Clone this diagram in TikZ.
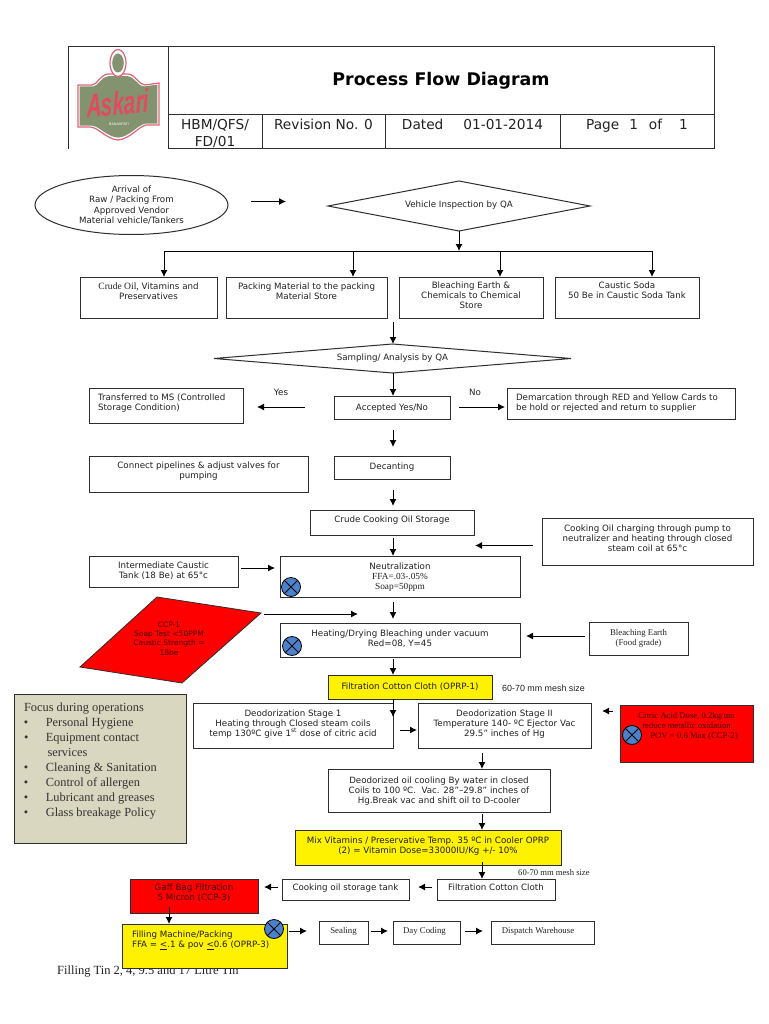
\documentclass[tikz,border=0pt]{standalone}
\usepackage{fontspec}
\setmainfont{DejaVu Sans}
\newfontfamily\srf{Liberation Serif}
\newfontfamily\ari{Liberation Sans}
\usetikzlibrary{arrows.meta,shapes.geometric}
\definecolor{ink}{HTML}{222222}
\definecolor{edge}{HTML}{2E2E2E}
\definecolor{focusbg}{HTML}{DAD7C1}
\definecolor{valve}{HTML}{4A82CC}
\definecolor{redink}{HTML}{400000}
\definecolor{logogreen}{HTML}{84936F}
\definecolor{logopink}{HTML}{DC6478}
\definecolor{logored}{HTML}{E24A62}
\tikzset{
  boxst/.style={draw=edge,line width=1pt,inner sep=0pt,outer sep=0pt,text=ink,anchor=north west,
    font=\fontsize{8.7}{10.4}\selectfont},
  arr/.style={draw=black,line width=1pt,-{Latex[length=7pt,width=7pt]}},
  diam/.style={draw=edge,line width=1pt,diamond,inner sep=0pt,outer sep=0pt,text=ink,
    font=\fontsize{8.7}{10.4}\selectfont},
  lbl/.style={inner sep=0pt,outer sep=0pt,text=ink,font=\fontsize{8.7}{10.4}\selectfont},
  xvalve/.style={circle,draw=black,line width=.8pt,fill=valve,minimum size=19pt,inner sep=0pt,
    path picture={\draw[black,line width=.8pt]
      (path picture bounding box.north west)--(path picture bounding box.south east)
      (path picture bounding box.south west)--(path picture bounding box.north east);}},
  hdr/.style={boxst,font=\fontsize{13.7}{16.8}\selectfont},
  sbox/.style={boxst,font=\srf\fontsize{8.8}{10.6}\selectfont},
  redbox/.style={boxst,fill=red,text=redink},
  yelbox/.style={boxst,fill=yellow,text=black!88},
}
\newcommand\bx[8][]{\node[boxst,#1] (#2) at (#3,#4)
  {\parbox[c][#6pt][t]{#5pt}{\centering\vspace*{\dimexpr #7pt-\ht\strutbox\relax}\strut #8}};}
\begin{document}
\begin{tikzpicture}[x=1pt,y=-1pt]
\useasboundingbox[fill=white] (0,0) rectangle (768,1024);
% guides
\coordinate (x164) at (164,0); \coordinate (x353) at (353,0);
\coordinate (x500) at (500,0); \coordinate (x652) at (652,0);
\coordinate (x393) at (393,0); \coordinate (x482) at (482,0); \coordinate (x169) at (169,0);
\coordinate (yAr) at (0,201.5); \coordinate (yAcc) at (0,407); \coordinate (yChg) at (0,545.5);
\coordinate (yTank) at (0,568); \coordinate (yBl) at (0,636); \coordinate (yStg) at (0,730);
\coordinate (yCit) at (0,711); \coordinate (yFil) at (0,887); \coordinate (yEnd) at (0,931);
% header
\draw[draw=edge,line width=1pt] (168,47)--(68,47)--(68,149);
\bx[hdr]{titlecell}{168}{47}{546}{68}{37.5}{\fontsize{17.4}{20}\selectfont\bfseries\color{black}Process Flow Diagram}
\bx[hdr]{hcode}{168}{115}{94}{34}{14.5}{HBM/QFS/\\FD/01}
\bx[hdr]{hrev}{262}{115}{123}{34}{14.5}{Revision No. 0}
\bx[hdr]{hdate}{385}{115}{175}{34}{14.5}{Dated\hspace{20pt}01-01-2014}
\bx[hdr]{hpage}{560}{115}{154}{34}{14.5}{Page\hspace{10pt}1\hspace{11pt}of\hspace{17pt}1}
% logo
\def\logopath{(78,85)--(92,85) .. controls (97,85) and (100,75) .. (108,74) -- (128,74)
  .. controls (136,75) and (139,85) .. (145,85) -- (159,83) -- (159,125) -- (146,125)
  .. controls (138,127) and (130,139) .. (118,140) .. controls (106,139) and (98,127) .. (90,127)
  -- (78,127) -- cycle}
\draw[logopink,line width=1.2pt,fill=white] \logopath;
\begin{scope}[shift={(118.5,106)},xscale=.96,yscale=.93,shift={(-118.5,-106)}]
\fill[logogreen] \logopath;
\end{scope}
\draw[logopink,line width=1.2pt,fill=white] (118,63) ellipse (8 and 13.5);
\fill[logogreen] (118,63) ellipse (5.8 and 9.5);
\node[inner sep=0pt,text=logored,font=\ari\bfseries\itshape\fontsize{20.5}{20}\selectfont,
  yscale=1.6,rotate=3] (logoname) at (118,103) {Askari};
\node[inner sep=0pt,text=white,font=\ari\fontsize{3.6}{4}\selectfont] (logosub) at (119,124) {BANASPATI};
% top flow
\node[draw=edge,line width=1pt,ellipse,minimum width=193pt,minimum height=59pt,inner sep=0pt,outer sep=0pt,
  text=ink,align=center,font=\fontsize{8.7}{10.4}\selectfont] (arrive) at (131.5,205)
  {Arrival of\\Raw / Packing From\\Approved Vendor\\Material vehicle/Tankers};
\node[diam,shape aspect=5.24,minimum width=262pt,minimum height=50pt] (insp) at (459,206) {\raisebox{4pt}{Vehicle Inspection by QA}};
\coordinate (bus) at (459,251);
\bx[]{crude}{80}{277}{137}{41}{12}{{\srf\fontsize{9.6}{10.4}\selectfont Crude Oil,} Vitamins and\\Preservatives}
\bx[]{pack}{226}{277}{161}{41}{12}{Packing Material to the packing\\Material Store}
\bx[]{bleachc}{399}{277}{144}{41}{11}{Bleaching Earth \&\\Chemicals to Chemical\\Store}
\bx[]{caustic}{555}{277}{144}{41}{11}{Caustic Soda\\50 Be in Caustic Soda Tank}
\node[diam,shape aspect=12.3,minimum width=357pt,minimum height=29pt] (samp) at (392.5,358.5) {Sampling/ Analysis by QA};
\bx[]{accept}{334}{396}{116}{23}{14}{Accepted Yes/No}
\bx[]{trans}{89}{388}{154}{35}{12}{\raggedright\leftskip=9pt Transferred to MS (Controlled\\Storage Condition)}
\bx[]{demarc}{507}{388}{228}{31}{12}{\raggedright\leftskip=9pt Demarcation through RED and Yellow Cards to\\be hold or rejected and return to supplier}
\node[lbl] (yes) at (281,392) {Yes};
\node[lbl] (no) at (475,392) {No};
\bx[]{decant}{334}{456}{116}{23}{13}{Decanting}
\bx[]{connect}{89}{456}{219}{36}{12}{Connect pipelines \& adjust valves for\\pumping}
\bx[]{storage}{310}{510}{164}{25}{12.5}{Crude Cooking Oil Storage}
\bx[]{charge}{542}{518}{211}{47}{13}{Cooking Oil charging through pump to\\neutralizer and heating through closed\\steam coil at 65°c}
\bx[]{tank}{89}{556}{149}{31}{12}{Intermediate Caustic\\Tank (18 Be) at 65°c}
\bx[]{neut}{280}{556}{240}{41}{13}{Neutralization\\{\srf\fontsize{9.3}{10.4}\selectfont FFA=.03-.05\%\\Soap=50ppm}}
\node[xvalve] (vneut) at (291,587) {};
% CCP-1
\draw[draw=edge,line width=.8pt,fill=red] (157,597)--(261,613)--(182,683)--(80,667)--cycle;
\node[inner sep=0pt,text=redink,align=center,font=\fontsize{7.5}{9.3}\selectfont] (ccp) at (169,638.5)
  {CCP-1\\Soap Test <50PPM\\Caustic Strength =\\18be};
\coordinate (ccpR) at (261,614); \coordinate (ccpEnd) at (358,614);
\bx[]{heat}{280}{623}{240}{34}{13}{Heating/Drying Bleaching under vacuum\\Red=08, Y=45}
\node[xvalve] (vheat) at (292,646) {};
\bx[sbox]{bearth}{589}{622}{99}{33}{13}{Bleaching Earth\\(Food grade)}
\bx[yelbox]{filt}{328}{675}{164}{24}{14}{Filtration Cotton Cloth (OPRP-1)}
\node[inner sep=0pt,text=ink,anchor=west,font=\ari\fontsize{8.9}{11}\selectfont] (mesh1) at (502,688) {60-70 mm mesh size};
% focus
\node[boxst,fill=focusbg,text=black!80,line width=1pt] (focus) at (14.5,694.5)
 {\parbox[c][149pt][t]{172pt}{\srf\fontsize{12.4}{15}\selectfont
  \vspace*{8pt}\leftskip=9.5pt
  Focus during operations\\
  \textbullet\hspace{17.5pt}Personal Hygiene\\
  \textbullet\hspace{17.5pt}Equipment contact\\
  \hspace*{23.5pt}services\\
  \textbullet\hspace{17.5pt}Cleaning \& Sanitation\\
  \textbullet\hspace{17.5pt}Control of allergen\\
  \textbullet\hspace{17.5pt}Lubricant and greases\\
  \textbullet\hspace{17.5pt}Glass breakage Policy}};
\bx[]{stagea}{193}{703}{200}{45}{13}{Deodorization Stage 1\\Heating through Closed steam coils\\temp 130ºC give 1\textsuperscript{st} dose of citric acid}
\coordinate (stageEnd) at (393,717);
\bx[]{stageb}{418}{703}{173}{45}{13}{Deodorization Stage II\\Temperature 140- ºC Ejector Vac\\29.5" inches of Hg}
\bx[redbox,font=\srf\fontsize{8.7}{10.4}\selectfont]{citric}{620}{705}{133}{57}{13}{Citric Acid Dose, 0.2kg/ton\\reduce metallic oxidation\\\hspace*{15pt}POV = 0.6 Max (CCP-2)}
\node[xvalve] (vcit) at (632,735) {};
\bx[]{deod}{328}{769}{222}{43}{14}{Deodorized oil cooling By water in closed\\Coils to 100 ºC.\ \ Vac. 28"–29.8" inches of\\Hg.Break vac and shift oil to D-cooler}
\bx[yelbox]{mix}{295}{830}{266}{35}{13}{Mix Vitamins / Preservative Temp. 35 ºC in Cooler OPRP\\(2) = Vitamin Dose=33000IU/Kg +/- 10\%}
\node[inner sep=0pt,text=ink,anchor=west,font=\srf\fontsize{8.6}{11}\selectfont] (mesh2) at (518,873) {60-70 mm mesh size};
\bx[]{filtb}{437}{879}{118}{21}{11}{Filtration Cotton Cloth}
\bx[]{store}{282}{879}{127}{21}{11}{Cooking oil storage tank}
\bx[redbox]{gaff}{130}{879}{128}{34}{11}{Gaff Bag Filtration\\5 Micron (CCP-3)}
\node[inner sep=0pt,text=ink,anchor=base west,font=\srf\fontsize{12.5}{14}\selectfont] (tin) at (57,974.5) {Filling Tin 2, 4, 9.5 and 17 Litre Tin};
\bx[yelbox]{filling}{122}{924}{165}{44}{13}{\raggedright\leftskip=10pt Filling Machine/Packing\\FFA = \underline{<}.1 \& pov \underline{<}0.6 (OPRP-3)}
\node[xvalve] (vfill) at (274,929) {};
\bx[sbox]{seal}{319}{921}{49}{23}{12}{Sealing}
\bx[sbox]{day}{393}{921}{67}{23}{12}{\hspace*{-4pt}Day Coding}
\bx[sbox]{disp}{491}{921}{103}{23}{12}{\hspace*{-9pt}Dispatch Warehouse}
% connectors
\draw[arr,shorten <=23pt,shorten >=42pt] (arrive.east |- yAr) -- (insp.west |- yAr);
\draw[arr] (insp.south) -- (bus);
\draw[arr] (bus) -| (x164 |- crude.north);
\draw[arr] (bus) -| (x353 |- pack.north);
\draw[arr] (bus) -| (x500 |- bleachc.north);
\draw[arr] (bus) -| (x652 |- caustic.north);
\draw[arr,shorten <=4pt] (x393 |- pack.south) -- (x393 |- samp.north);
\draw[arr] (x393 |- samp.south) -- (x393 |- accept.north);
\draw[arr,shorten <=29pt,shorten >=14pt] (accept.west |- yAcc) -- (trans.east |- yAcc);
\draw[arr,shorten <=9pt,shorten >=2pt] (accept.east |- yAcc) -- (demarc.west |- yAcc);
\draw[arr,shorten <=11pt,shorten >=9pt] (x393 |- accept.south) -- (x393 |- decant.north);
\draw[arr,shorten <=11pt,shorten >=4pt] (x393 |- decant.south) -- (x393 |- storage.north);
\draw[arr,shorten <=3pt] (x393 |- storage.south) -- (x393 |- neut.north);
\draw[arr,shorten <=9pt,shorten >=1pt] (charge.west |- yChg) -- (storage.east |- yChg);
\draw[arr,shorten <=3pt,shorten >=5pt] (tank.east |- yTank) -- (neut.west |- yTank);
\draw[arr,shorten <=3pt] (ccpR) -- (ccpEnd);
\draw[arr,shorten <=5pt,shorten >=4pt] (x393 |- neut.south) -- (x393 |- heat.north);
\draw[arr,shorten <=4pt,shorten >=6pt] (bearth.west |- yBl) -- (heat.east |- yBl);
\draw[arr,shorten <=2pt] (x393 |- heat.south) -- (x393 |- filt.north);
\draw[arr] (x393 |- filt.south) -- (stageEnd);
\draw[arr,shorten <=7pt,shorten >=1pt] (stagea.east |- yStg) -- (stageb.west |- yStg);
\draw[arr,shorten <=7pt,shorten >=11pt] (citric.west |- yCit) -- (stageb.east |- yCit);
\draw[arr,shorten <=5pt] (x482 |- stageb.south) -- (x482 |- deod.north);
\draw[arr,shorten <=2pt] (x482 |- deod.south) -- (x482 |- mix.north);
\draw[arr,shorten <=-3pt] (x482 |- mix.south) -- (x482 |- filtb.north);
\draw[arr,shorten <=5pt,shorten >=9pt] (filtb.west |- yFil) -- (store.east |- yFil);
\draw[arr,shorten <=4pt,shorten >=6pt] (store.west |- yFil) -- (gaff.east |- yFil);
\draw[arr,shorten <=-6pt] (x169 |- gaff.south) -- (x169 |- filling.north);
\draw[arr,shorten <=2pt,shorten >=12pt] (filling.east |- yEnd) -- (seal.west |- yEnd);
\draw[arr,shorten <=3pt,shorten >=5pt] (seal.east |- yEnd) -- (day.west |- yEnd);
\draw[arr,shorten <=5pt,shorten >=8pt] (day.east |- yEnd) -- (disp.west |- yEnd);
\end{tikzpicture}
\end{document}
